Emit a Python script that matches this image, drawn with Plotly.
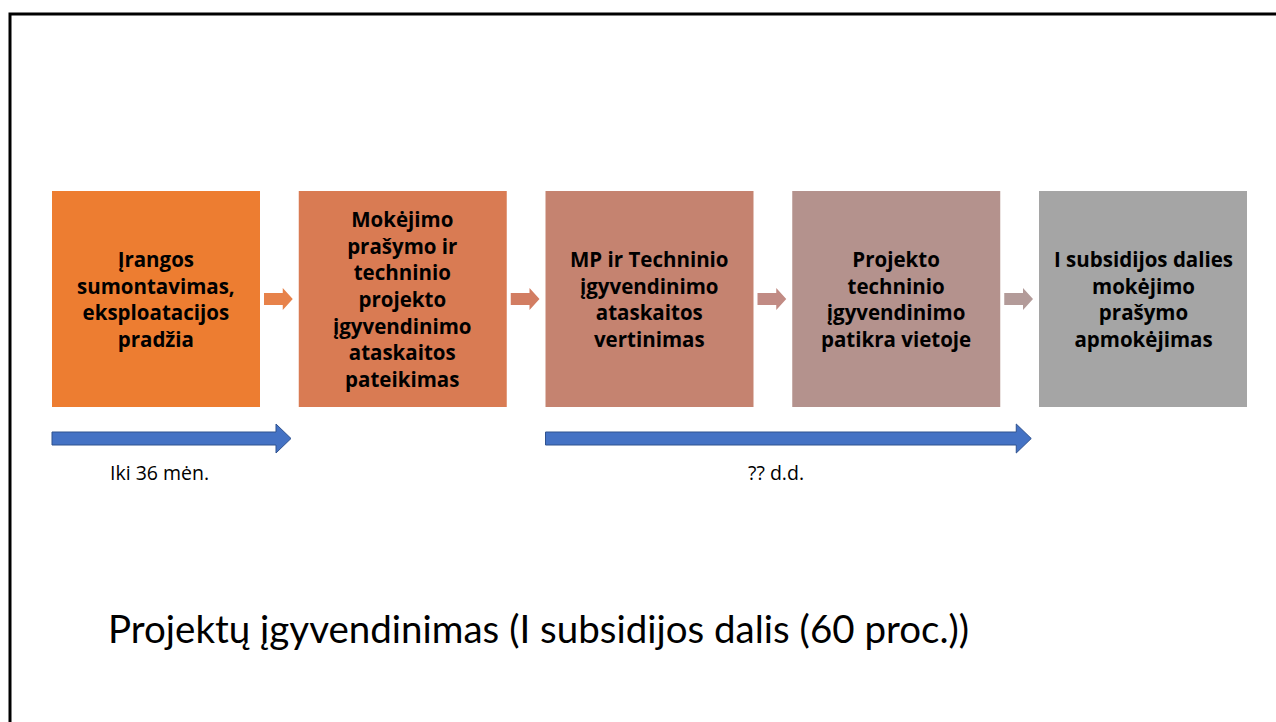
import plotly.graph_objects as go

# ---- data ----
step_labels = [
    "Įrangos<br>sumontavimas,<br>eksploatacijos<br>pradžia",
    "Mokėjimo<br>prašymo ir<br>techninio<br>projekto<br>įgyvendinimo<br>ataskaitos<br>pateikimas",
    "MP ir Techninio<br>įgyvendinimo<br>ataskaitos<br>vertinimas",
    "Projekto<br>techninio<br>įgyvendinimo<br>patikra vietoje",
    "I subsidijos dalies<br>mokėjimo<br>prašymo<br>apmokėjimas",
]
step_colors = ["#ED7D31", "#D97B53", "#C58370", "#B4928D", "#A5A5A5"]
connector_colors = ["#E7824A", "#D27D62", "#C18B84", "#B39B99"]
span_start = [0, 2]
span_end = [0, 3]
span_labels = ["Iki 36 mėn.", "?? d.d."]
title_text = "Projektų įgyvendinimas (I subsidijos dalis (60 proc.))"

# ---- layout geometry (pixels) ----
W, H = 1276, 722
box_x0, box_w, box_gap = 52, 208, 38.75
box_y0, box_y1 = 191, 407
box_cy = (box_y0 + box_y1) / 2

fig = go.Figure()
shapes = []
annotations = []

# slide frame
shapes.append(dict(type="rect", x0=10, y0=14, x1=W + 20, y1=H + 20,
                   line=dict(color="#000000", width=3), fillcolor="rgba(0,0,0,0)"))

def box_left(i):
    return box_x0 + i * (box_w + box_gap)

for i, (lab, col) in enumerate(zip(step_labels, step_colors)):
    x0 = box_left(i)
    shapes.append(dict(type="rect", x0=x0, x1=x0 + box_w, y0=box_y0, y1=box_y1,
                       line=dict(width=0), fillcolor=col, layer="below"))
    annotations.append(dict(x=x0 + box_w / 2, y=box_cy, text="<b>" + lab + "</b>",
                            showarrow=False, xanchor="center", yanchor="middle",
                            font=dict(family="Open Sans", size=20.5, color="#000000"),
                            align="center"))

# small connector arrows
for i, col in enumerate(connector_colors):
    gx0 = box_left(i) + box_w
    gx1 = box_left(i + 1)
    ax0 = gx0 + 4
    ax1 = gx1 - 6
    hx = ax1 - 10
    cy = box_cy
    path = (f"M {ax0},{cy-6} L {hx},{cy-6} L {hx},{cy-11} L {ax1},{cy} "
            f"L {hx},{cy+11} L {hx},{cy+6} L {ax0},{cy+6} Z")
    shapes.append(dict(type="path", path=path, fillcolor=col, line=dict(width=0)))

# blue span arrows
ay0, ay1 = 432, 445
acy = (ay0 + ay1) / 2
for s, e, lab in zip(span_start, span_end, span_labels):
    x0 = box_left(s)
    x1 = box_left(e) + box_w + box_gap * 0.8
    hx = x1 - 15
    path = (f"M {x0},{ay0} L {hx},{ay0} L {hx},{acy-14.5} L {x1},{acy} "
            f"L {hx},{acy+14.5} L {hx},{ay1} L {x0},{ay1} Z")
    shapes.append(dict(type="path", path=path, fillcolor="#4472C4",
                       line=dict(color="#2F528F", width=1)))
    annotations.append(dict(x=(x0 + x1) / 2 - 12, y=472, text=lab, showarrow=False,
                            xanchor="center", yanchor="middle",
                            font=dict(family="Open Sans", size=19.5, color="#000000")))

# title
annotations.append(dict(x=106, y=628, text=title_text, showarrow=False,
                        xanchor="left", yanchor="middle",
                        font=dict(family="Lato", size=38.5, color="#000000")))

fig.update_layout(
    width=W, height=H,
    margin=dict(l=0, r=0, t=0, b=0),
    paper_bgcolor="#FFFFFF", plot_bgcolor="#FFFFFF",
    xaxis=dict(range=[0, W], visible=False, fixedrange=True),
    yaxis=dict(range=[H, 0], visible=False, fixedrange=True),
    shapes=shapes, annotations=annotations,
    showlegend=False,
)

fig.write_html("out.html", config={"displayModeBar": False},
               post_script="document.body.style.margin='0';document.body.style.overflow='hidden';")
